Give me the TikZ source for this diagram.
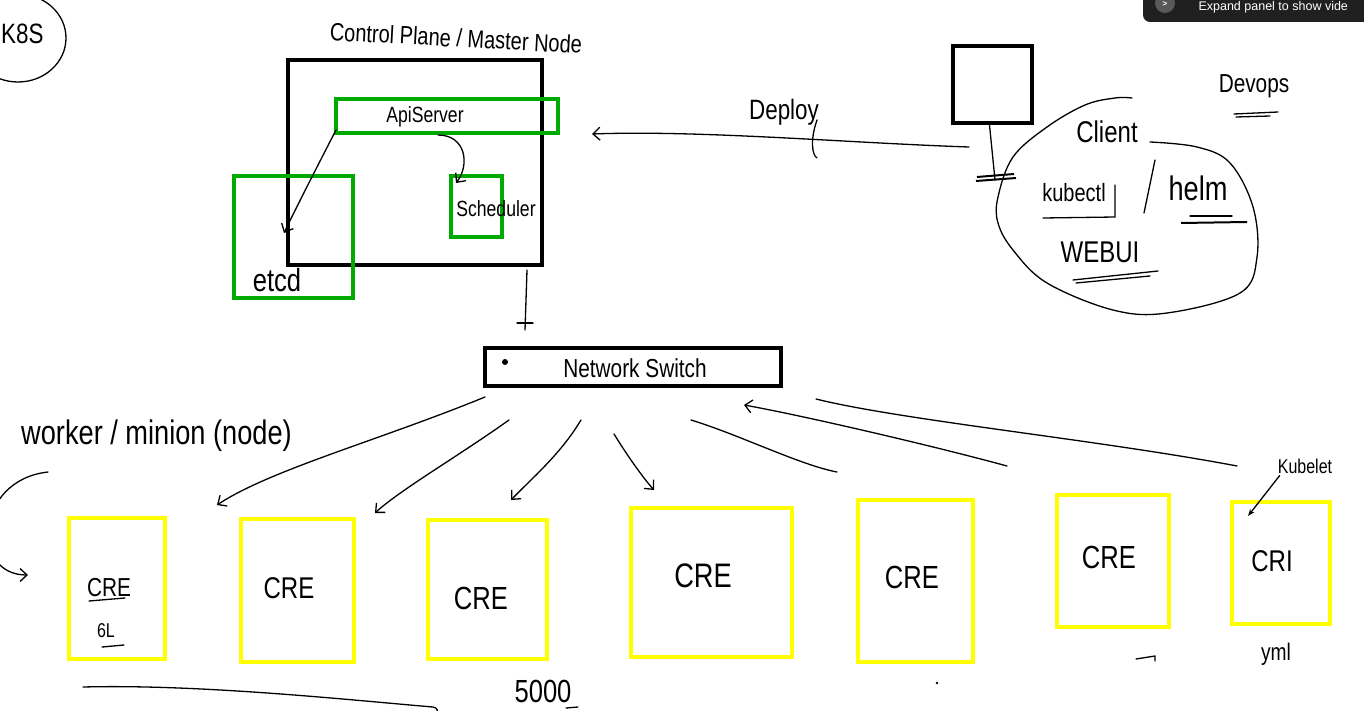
\documentclass[tikz,border=0pt]{standalone}
\usepackage{fontspec}
\setmainfont{Liberation Sans}
\newfontfamily\hand[FakeStretch=0.8]{Liberation Sans}
\usetikzlibrary{arrows.meta,calc}
\definecolor{gbox}{RGB}{0,170,0}
\definecolor{ybox}{RGB}{255,255,0}
\definecolor{panel}{RGB}{32,32,32}
\begin{document}
\begin{tikzpicture}[x=1pt,y=-1pt,
  hw/.style={font=\hand\fontsize{#1}{#1}\selectfont, inner sep=0pt},
  bbox/.style={draw=black, line width=4pt, inner sep=0pt},
  gboxs/.style={draw=gbox, line width=4pt, inner sep=0pt},
  yboxs/.style={draw=ybox, line width=4pt, inner sep=0pt},
  conn/.style={line width=1.3pt, line cap=round, line join=round},
  tipo/.style={-{Straight Barb[length=7pt,width=13pt]}},
  ul/.style={line width=1.3pt, line cap=round}]
\useasboundingbox[fill=white] (0,0) rectangle (1364,711);

% K8S
\draw[conn] (18,38) ellipse [x radius=48, y radius=44];
\node[hw=28, anchor=west] (k8s) at (1,34) {K8S};

% control plane
\node[hw=25, rotate=-3] (cptitle) at (456,38) {Control Plane / Master Node};
\node[bbox, minimum width=254pt, minimum height=205pt] (master) at (415,162.5) {};
\node[gboxs, minimum width=119pt, minimum height=122pt] (etcd) at (293.5,237) {};
\node[gboxs, minimum width=222pt, minimum height=34pt] (api) at (447,116) {};
\node[gboxs, minimum width=51pt, minimum height=61pt] (sched) at (476.5,206.5) {};
\node[hw=22] (apitxt) at (425,117) {ApiServer};
\node[hw=22] (schedtxt) at (496,209) {Scheduler};
\node[hw=32] (etcdtxt) at (277,280) {etcd};
\draw[conn, tipo] ($(api.south west)+(2,-5)$) .. controls (318,165) and (300,200) .. ($(etcd.center)+(-9.5,-4)$);
\draw[conn, tipo] ($(api.south west)+(104,0)$) .. controls (466,135) and (470,165) .. ($(sched.north west)+(7,9)$);

% client
\node[bbox, minimum width=79pt, minimum height=77pt] (client) at (992.5,84.5) {};
\draw[conn] ($(client.south)+(-3,0)$) -- (995,180);
\draw[line width=2pt] (977,177) -- (1014,174) (976,181) -- (1016,178);
\draw[conn, tipo] ($(client.south west)+(18,22)$) .. controls (850,143) and (700,130) .. ($(api.east)+(32,18)$);
\node[hw=28] (deploy) at (784,112) {Deploy};
\draw[conn] (817,120) .. controls (810,140) and (812,155) .. (817,158);

\draw[conn] plot[smooth, tension=0.6] coordinates {(1150,142) (1197,147) (1230,163) (1253,207) (1257,257) (1240,293) (1167,313) (1113,310) (1047,283) (1013,250) (998,223) (998,197) (1013,157) (1047,127) (1085,105) (1115,98) (1132,98)};
\node[hw=30] (clienttxt) at (1107,132) {Client};
\node[hw=25] (kubectl) at (1074,193) {kubectl};
\draw[ul] (1043,218) -- (1115,217) -- (1115,185);
\draw[ul] (1155,160) -- (1144,213);
\node[hw=34] (helm) at (1198,188) {helm};
\draw[ul] (1190,216) -- (1232,216);
\draw[line width=2pt] (1181,223) -- (1247,222);
\node[hw=30] (webui) at (1100,252) {WEBUI};
\draw[ul] (1073,280) -- (1158,271) (1076,283) -- (1150,276);
\node[hw=26] (devops) at (1254,86) {Devops};
\draw[ul] (1234,114) -- (1278,112) (1236,117) -- (1270,116);

% network switch
\draw[conn] ($(master.south east)+(-17,3)$) -- (525,330);
\draw[conn] (517,323) -- (533,323);
\node[bbox, minimum width=296pt, minimum height=38pt] (switch) at (633,367) {};
\fill (505,362) circle (3);
\node[hw=26] (switchtxt) at (635,368) {Network Switch};

% workers
\node[hw=34, anchor=east] (worker) at (292,436) {worker / minion (node)};
\draw[conn, tipo] (48,472) .. controls (-25,480) and (-30,575) .. (28,575);

\node[yboxs, minimum width=96pt, minimum height=141pt] (y1) at (117,588.5) {};
\node[yboxs, minimum width=113pt, minimum height=143pt] (y2) at (297.5,590.5) {};
\node[yboxs, minimum width=119pt, minimum height=139pt] (y3) at (487.5,589.5) {};
\node[yboxs, minimum width=161pt, minimum height=149pt] (y4) at (711.5,582.5) {};
\node[yboxs, minimum width=115pt, minimum height=162pt] (y5) at (915.5,581) {};
\node[yboxs, minimum width=112pt, minimum height=132pt] (y6) at (1113,561) {};
\node[yboxs, minimum width=98pt, minimum height=122pt] (y7) at (1281,563) {};

\node[hw=26] (c1) at (109,588) {CRE};
\draw[ul] (89,601) -- (125,598);
\node[hw=20] (c1b) at (106,631) {6L};
\draw[ul] (102,647) -- (124,645);
\node[hw=30] (c2) at (289,588) {CRE};
\node[hw=32] (c3) at (481,598) {CRE};
\node[hw=34] (c4) at (703,576) {CRE};
\node[hw=32] (c5) at (912,577) {CRE};
\node[hw=32] (c6) at (1109,557) {CRE};
\node[hw=30] (c7) at (1272,561) {CRI};

\draw[conn, tipo] ($(switch.south west)+(2,9)$) .. controls (380,440) and (270,470) .. ($(y2.north west)+(-22,-12)$);
\draw[conn, tipo] ($(switch.south west)+(26,32)$) .. controls (460,455) and (400,490) .. ($(y2.north east)+(19,-4)$);
\draw[conn, tipo] ($(switch.south west)+(98,32)$) .. controls (560,455) and (530,480) .. ($(y3.north)+(23.5,-18)$);
\draw[conn, tipo] ($(switch.south west)+(131,46)$) .. controls (630,460) and (645,480) .. ($(y4.north west)+(25,-16)$);
\draw[conn] ($(switch.south west)+(208,32)$) .. controls (740,435) and (800,465) .. ($(y5.north west)+(-19,-26)$);
\draw[conn, tipo] ($(y6.north west)+(-48,-27)$) .. controls (930,445) and (800,415) .. ($(switch.south west)+(261,17)$);
\draw[conn] ($(switch.south east)+(33,11)$) .. controls (900,420) and (1100,440) .. ($(y7.north west)+(7,-34)$);

\node[hw=20] (kubelet) at (1305,466) {Kubelet};
\draw[conn, -{Stealth[length=7pt]}] ($(kubelet.south west)+(2,2)$) -- ($(y7.north west)+(18,16)$);
\node[hw=24] (yml) at (1276,654) {yml};
\node[hw=32] (n5000) at (543,691) {5000};
\draw[ul] (566,708) -- (578,707);
\draw[conn] (83,687) .. controls (200,684) and (350,700) .. (433,707) .. controls (438,708) and (438,711) .. (436,713);
\draw[conn] (1136,659) -- (1155,656) -- (1155,661);
\fill (937,683) circle (1.3);

% UI overlay
\fill[panel, rounded corners=7pt] (1143,-20) rectangle (1390,22);
\fill[black!65] (1165,3) circle (10);
\node[text=white, font=\fontsize{8}{8}\selectfont\bfseries] (chev) at (1165,4) {>};
\node[text=white, font=\fontsize{12.5}{12.5}\selectfont, anchor=west] (paneltxt) at (1195,7) {Expand panel to show vide};
\end{tikzpicture}
\end{document}
